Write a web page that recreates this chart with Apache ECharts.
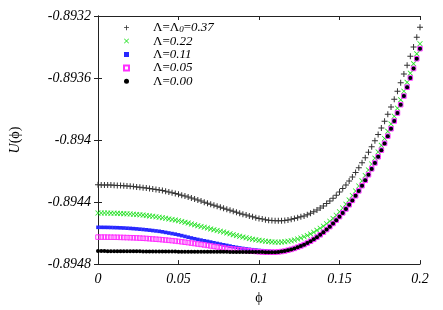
<!DOCTYPE html>
<html><head><meta charset="utf-8">
<script src="https://cdn.jsdelivr.net/npm/echarts@6/dist/echarts.min.js"></script>
<style>html,body{margin:0;padding:0;background:#fff}#c{width:443px;height:310px}</style>
</head><body><div id="c"></div>
<script>
const phi = [0,0.002,0.004,0.006,0.008,0.010,0.012,0.014,0.016,0.018,
0.020,0.022,0.024,0.026,0.028,0.030,0.032,0.034,0.036,0.038,
0.040,0.042,0.044,0.046,0.048,0.050,0.052,0.054,0.056,0.058,
0.060,0.062,0.064,0.066,0.068,0.070,0.072,0.074,0.076,0.078,
0.080,0.082,0.084,0.086,0.088,0.090,0.092,0.094,0.096,0.098,
0.100,0.102,0.104,0.106,0.108,0.110,0.112,0.114,0.116,0.118,
0.120,0.122,0.124,0.126,0.128,0.130,0.132,0.134,0.136,0.138,
0.140,0.142,0.144,0.146,0.148,0.150,0.152,0.154,0.156,0.158,
0.160,0.162,0.164,0.166,0.168,0.170,0.172,0.174,0.176,0.178,
0.180,0.182,0.184,0.186,0.188,0.190,0.192,0.194,0.196,0.198,
0.200];

const U037 = [-0.8942890,-0.8942891,-0.8942893,-0.8942899,-0.8942905,-0.8942915,-0.8942926,-0.8942938,-0.8942952,-0.8942967,
-0.8942984,-0.8943003,-0.8943024,-0.8943046,-0.8943069,-0.8943094,-0.8943121,-0.8943150,-0.8943182,-0.8943215,
-0.8943256,-0.8943300,-0.8943344,-0.8943394,-0.8943445,-0.8943495,-0.8943552,-0.8943615,-0.8943678,-0.8943741,
-0.8943805,-0.8943868,-0.8943937,-0.8944006,-0.8944076,-0.8944145,-0.8944208,-0.8944271,-0.8944334,-0.8944404,
-0.8944467,-0.8944530,-0.8944593,-0.8944656,-0.8944719,-0.8944782,-0.8944839,-0.8944896,-0.8944953,-0.8945003,
-0.8945054,-0.8945098,-0.8945136,-0.8945167,-0.8945192,-0.8945205,-0.8945211,-0.8945211,-0.8945192,-0.8945155,
-0.8945111,-0.8945066,-0.8945010,-0.8944953,-0.8944890,-0.8944814,-0.8944726,-0.8944625,-0.8944511,-0.8944385,
-0.8944246,-0.8944095,-0.8943931,-0.8943754,-0.8943558,-0.8943350,-0.8943129,-0.8942896,-0.8942644,-0.8942379,
-0.8942095,-0.8941792,-0.8941464,-0.8941148,-0.8940789,-0.8940429,-0.8940051,-0.8939641,-0.8939224,-0.8938789,
-0.8938335,-0.8937861,-0.8937369,-0.8936852,-0.8936309,-0.8935748,-0.8935174,-0.8934600,-0.8934000,-0.8933376,
-0.8932732];

const U022 = [-0.8944700,-0.8944700,-0.8944704,-0.8944707,-0.8944713,-0.8944719,-0.8944726,-0.8944735,-0.8944745,-0.8944757,
-0.8944770,-0.8944786,-0.8944801,-0.8944820,-0.8944839,-0.8944864,-0.8944890,-0.8944918,-0.8944946,-0.8944978,
-0.8945010,-0.8945047,-0.8945085,-0.8945123,-0.8945161,-0.8945205,-0.8945256,-0.8945306,-0.8945357,-0.8945413,
-0.8945470,-0.8945521,-0.8945571,-0.8945622,-0.8945672,-0.8945729,-0.8945779,-0.8945830,-0.8945880,-0.8945931,
-0.8945987,-0.8946044,-0.8946101,-0.8946158,-0.8946208,-0.8946259,-0.8946303,-0.8946347,-0.8946391,-0.8946429,
-0.8946467,-0.8946498,-0.8946524,-0.8946549,-0.8946568,-0.8946580,-0.8946587,-0.8946580,-0.8946562,-0.8946530,
-0.8946492,-0.8946442,-0.8946385,-0.8946316,-0.8946240,-0.8946151,-0.8946051,-0.8945943,-0.8945823,-0.8945691,
-0.8945552,-0.8945401,-0.8945237,-0.8945054,-0.8944852,-0.8944625,-0.8944385,-0.8944133,-0.8943861,-0.8943577,
-0.8943281,-0.8942965,-0.8942631,-0.8942284,-0.8941924,-0.8941546,-0.8941167,-0.8940764,-0.8940341,-0.8939899,
-0.8939439,-0.8938959,-0.8938461,-0.8937943,-0.8937407,-0.8936852,-0.8936278,-0.8935685,-0.8935073,-0.8934442,
-0.8933792];

const U011 = [-0.8945628,-0.8945628,-0.8945631,-0.8945634,-0.8945640,-0.8945647,-0.8945653,-0.8945663,-0.8945672,-0.8945685,
-0.8945697,-0.8945713,-0.8945729,-0.8945748,-0.8945767,-0.8945789,-0.8945811,-0.8945836,-0.8945861,-0.8945886,
-0.8945918,-0.8945956,-0.8945994,-0.8946032,-0.8946069,-0.8946114,-0.8946164,-0.8946215,-0.8946265,-0.8946316,
-0.8946366,-0.8946410,-0.8946454,-0.8946498,-0.8946536,-0.8946580,-0.8946625,-0.8946669,-0.8946713,-0.8946757,
-0.8946795,-0.8946839,-0.8946883,-0.8946921,-0.8946959,-0.8946991,-0.8947022,-0.8947047,-0.8947073,-0.8947095,
-0.8947117,-0.8947136,-0.8947155,-0.8947174,-0.8947192,-0.8947205,-0.8947211,-0.8947186,-0.8947155,-0.8947104,
-0.8947048,-0.8946985,-0.8946909,-0.8946827,-0.8946739,-0.8946638,-0.8946524,-0.8946398,-0.8946259,-0.8946108,
-0.8945944,-0.8945767,-0.8945578,-0.8945376,-0.8945161,-0.8944934,-0.8944694,-0.8944442,-0.8944171,-0.8943887,
-0.8943590,-0.8943275,-0.8942940,-0.8942593,-0.8942234,-0.8941855,-0.8941477,-0.8941073,-0.8940650,-0.8940209,
-0.8939748,-0.8939269,-0.8938770,-0.8938253,-0.8937717,-0.8937161,-0.8936587,-0.8935994,-0.8935382,-0.8934751,
-0.8934102];

const U005 = [-0.8946259,-0.8946259,-0.8946259,-0.8946262,-0.8946265,-0.8946268,-0.8946271,-0.8946278,-0.8946284,-0.8946290,
-0.8946297,-0.8946303,-0.8946312,-0.8946322,-0.8946334,-0.8946347,-0.8946363,-0.8946379,-0.8946394,-0.8946410,
-0.8946429,-0.8946448,-0.8946467,-0.8946489,-0.8946511,-0.8946536,-0.8946562,-0.8946587,-0.8946615,-0.8946644,
-0.8946675,-0.8946704,-0.8946732,-0.8946763,-0.8946795,-0.8946827,-0.8946858,-0.8946890,-0.8946921,-0.8946956,
-0.8946991,-0.8947013,-0.8947035,-0.8947057,-0.8947079,-0.8947098,-0.8947120,-0.8947142,-0.8947164,-0.8947186,
-0.8947205,-0.8947221,-0.8947227,-0.8947230,-0.8947233,-0.8947227,-0.8947215,-0.8947189,-0.8947158,-0.8947107,
-0.8947051,-0.8946988,-0.8946912,-0.8946830,-0.8946742,-0.8946641,-0.8946527,-0.8946401,-0.8946262,-0.8946111,
-0.8945947,-0.8945770,-0.8945581,-0.8945379,-0.8945164,-0.8944937,-0.8944697,-0.8944445,-0.8944174,-0.8943890,
-0.8943593,-0.8943278,-0.8942943,-0.8942596,-0.8942237,-0.8941858,-0.8941480,-0.8941076,-0.8940653,-0.8940212,
-0.8939751,-0.8939272,-0.8938773,-0.8938256,-0.8937720,-0.8937164,-0.8936590,-0.8935997,-0.8935385,-0.8934754,
-0.8934105];

const U000 = [-0.8947161,-0.8947161,-0.8947161,-0.8947164,-0.8947164,-0.8947167,-0.8947167,-0.8947167,-0.8947170,-0.8947170,
-0.8947174,-0.8947174,-0.8947177,-0.8947177,-0.8947180,-0.8947180,-0.8947183,-0.8947183,-0.8947186,-0.8947186,
-0.8947189,-0.8947189,-0.8947192,-0.8947192,-0.8947192,-0.8947196,-0.8947196,-0.8947199,-0.8947199,-0.8947199,
-0.8947202,-0.8947202,-0.8947205,-0.8947205,-0.8947205,-0.8947208,-0.8947208,-0.8947208,-0.8947211,-0.8947211,
-0.8947211,-0.8947215,-0.8947215,-0.8947215,-0.8947218,-0.8947218,-0.8947218,-0.8947221,-0.8947221,-0.8947221,
-0.8947224,-0.8947224,-0.8947230,-0.8947233,-0.8947237,-0.8947230,-0.8947218,-0.8947192,-0.8947161,-0.8947110,
-0.8947054,-0.8946991,-0.8946915,-0.8946833,-0.8946745,-0.8946644,-0.8946530,-0.8946404,-0.8946265,-0.8946114,
-0.8945950,-0.8945773,-0.8945584,-0.8945382,-0.8945167,-0.8944940,-0.8944700,-0.8944448,-0.8944177,-0.8943893,
-0.8943596,-0.8943281,-0.8942946,-0.8942599,-0.8942240,-0.8941861,-0.8941483,-0.8941079,-0.8940656,-0.8940215,
-0.8939754,-0.8939275,-0.8938776,-0.8938259,-0.8937723,-0.8937167,-0.8936593,-0.8936000,-0.8935388,-0.8934757,
-0.8934108];

const seriesNames = ['Λ=Λ0=0.37','Λ=0.22','Λ=0.11','Λ=0.05','Λ=0.00'];
const legendRich = {
  'Λ=Λ0=0.37': '{n|Λ=Λ}{s|0}{n|=}{i|0.37}',
  'Λ=0.22': '{n|Λ=}{i|0.22}',
  'Λ=0.11': '{n|Λ=}{i|0.11}',
  'Λ=0.05': '{n|Λ=}{i|0.05}',
  'Λ=0.00': '{n|Λ=}{i|0.00}'
};
const xTicks = {min: 0, max: 0.2, interval: 0.05};
const yTicks = {min: -0.8948, max: -0.8932, interval: 0.0004};

const pts = arr => phi.map((x, i) => [x, arr[i]]);
const plusPath = 'path://M-0.5,-3L0.5,-3L0.5,-0.5L3,-0.5L3,0.5L0.5,0.5L0.5,3L-0.5,3L-0.5,0.5L-3,0.5L-3,-0.5L-0.5,-0.5Z';
const crossPath = 'path://M-3,-2.4L-2.4,-3L0,-0.6L2.4,-3L3,-2.4L0.6,0L3,2.4L2.4,3L0,0.6L-2.4,3L-3,2.4L-0.6,0Z';
const fmt = v => String(+(+v).toFixed(4));
const serif = 'Liberation Serif, Times New Roman, serif';

const axisCommon = {
  axisLine: {show: true, lineStyle: {color: '#222', width: 1}},
  axisTick: {show: true, inside: true, length: 4, lineStyle: {color: '#222'}},
  splitLine: {show: false}
};

const chart = echarts.init(document.getElementById('c'), null, {renderer: 'canvas'});
chart.setOption({
  animation: false,
  backgroundColor: '#fff',
  grid: {left: 93, right: 23, top: 16, bottom: 41, containLabel: false},
  legend: {
    orient: 'vertical', left: 123, top: 21, padding: 0, itemGap: 0,
    itemWidth: 5, itemHeight: 5,
    data: seriesNames,
    formatter: n => legendRich[n],
    textStyle: {
      fontFamily: serif, fontSize: 13, color: '#000', lineHeight: 13.4,
      padding: [0, 0, 0, 19],
      rich: {
        n: {fontFamily: serif, fontSize: 13, fontStyle: 'normal', color: '#000', lineHeight: 13.4},
        i: {fontFamily: serif, fontSize: 13, fontStyle: 'italic', color: '#000', lineHeight: 13.4},
        s: {fontFamily: serif, fontSize: 9, fontStyle: 'italic', color: '#000', lineHeight: 6, verticalAlign: 'bottom'}
      }
    }
  },
  xAxis: [
    Object.assign({type: 'value', position: 'bottom', min: xTicks.min, max: xTicks.max, interval: xTicks.interval,
      name: 'ϕ', nameLocation: 'middle', nameGap: 26,
      nameTextStyle: {fontFamily: serif, fontSize: 14, color: '#000'},
      axisLabel: {formatter: fmt, margin: 8, fontFamily: serif, fontStyle: 'italic', fontSize: 14, color: '#000'}}, axisCommon),
    Object.assign({type: 'value', position: 'top', min: xTicks.min, max: xTicks.max, interval: xTicks.interval,
      axisLabel: {show: false}}, axisCommon)
  ],
  yAxis: [
    Object.assign({type: 'value', position: 'left', min: yTicks.min, max: yTicks.max, interval: yTicks.interval,
      name: '{i|U}{n|(ϕ)}', nameLocation: 'middle', nameGap: 76,
      nameTextStyle: {fontFamily: serif, fontSize: 14, color: '#000',
        rich: {i: {fontFamily: serif, fontSize: 14, fontStyle: 'italic', color: '#000'},
               n: {fontFamily: serif, fontSize: 14, color: '#000'}}},
      axisLabel: {formatter: fmt, margin: 7, fontFamily: serif, fontStyle: 'italic', fontSize: 14, color: '#000'}}, axisCommon),
    Object.assign({type: 'value', position: 'right', min: yTicks.min, max: yTicks.max, interval: yTicks.interval,
      axisLabel: {show: false}}, axisCommon)
  ],
  series: [
    {name: seriesNames[0], type: 'scatter', clip: false, data: pts(U037), symbol: plusPath, symbolSize: 6,
      itemStyle: {color: '#333', opacity: 1}},
    {name: seriesNames[1], type: 'scatter', clip: false, data: pts(U022), symbol: crossPath, symbolSize: 5.5,
      itemStyle: {color: '#22e022', opacity: 1}},
    {name: seriesNames[2], type: 'scatter', clip: false, data: pts(U011), symbol: 'rect', symbolSize: 3.6,
      itemStyle: {color: '#2828ff', opacity: 1}},
    {name: seriesNames[3], type: 'scatter', clip: false, data: pts(U005), symbol: 'rect', symbolSize: 4.5,
      itemStyle: {color: 'rgba(0,0,0,0)', borderColor: '#ff30ff', borderWidth: 1, opacity: 1}},
    {name: seriesNames[4], type: 'scatter', clip: false, data: pts(U000), symbol: 'circle', symbolSize: 4,
      itemStyle: {color: '#000', opacity: 1}}
  ]
});
</script></body></html>
